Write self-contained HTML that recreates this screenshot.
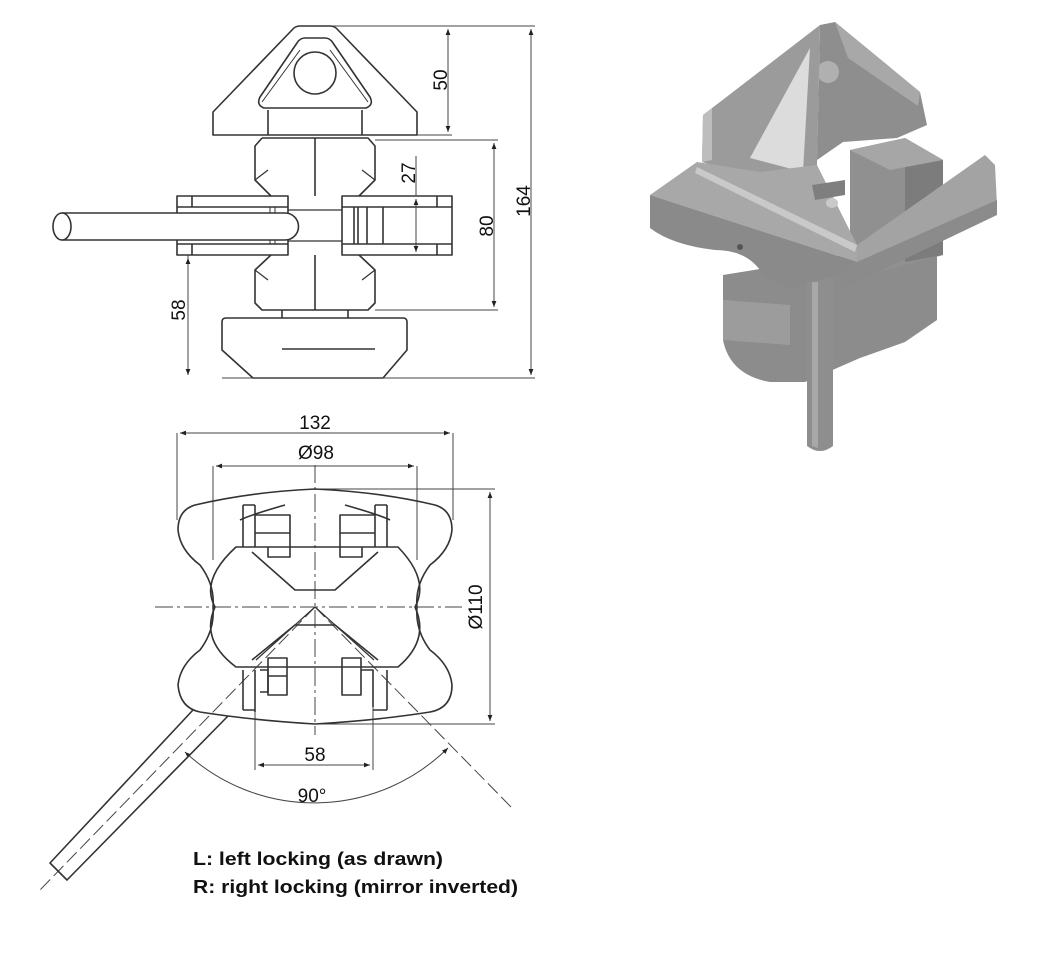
<!DOCTYPE html>
<html><head><meta charset="utf-8"><style>
html,body{margin:0;padding:0;background:#fff}
svg{display:block}
text{font-family:"Liberation Sans",Arial,sans-serif;fill:#111}
</style></head><body>
<svg width="1048" height="956" viewBox="0 0 1048 956" xmlns="http://www.w3.org/2000/svg">
<defs>
<marker id="a" viewBox="0 0 10 10" refX="10" refY="5" markerWidth="9" markerHeight="6" orient="auto-start-reverse" markerUnits="userSpaceOnUse"><path d="M0,1 L10,5 L0,9 z" fill="#222"/></marker>
</defs>

<!-- ================= TOP VIEW ================= -->
<g fill="none" stroke="#333" stroke-width="1.6" stroke-linejoin="round">
  <path d="M300,26 L330,26 Q335,26 338,30 L417,112 L417,135 L213,135 L213,112 L292,30 Q295,26 300,26 Z"/>
  <path d="M305,38 L325,38 Q330,38 333,43 L370,97 Q374,105 366,108 L264,108 Q256,105 260,97 L297,43 Q300,38 305,38 Z"/>
  <path d="M300,50 L262,102 M330,50 L368,102" stroke-width="1"/>
  <circle cx="315" cy="73" r="21"/>
  <path d="M268,110 L268,135 M362,110 L362,135"/>
  <path d="M262,138 L368,138 L375,146 L375,180 L359,196 M262,138 L255,146 L255,180 L271,196"/>
  <path d="M255,180 L268,170 M375,180 L362,170" stroke-width="1.2"/>
  <path d="M271,255 L255,270 L255,303 L262,310 L368,310 L375,303 L375,270 L359,255"/>
  <path d="M255,270 L268,280 M375,270 L362,280" stroke-width="1.2"/>
  <path d="M315,138 L315,196 M315,255 L315,310"/>
  <rect x="177" y="196" width="111" height="59"/>
  <path d="M177,207 L288,207 M177,244 L288,244 M192,196 L192,207 M192,244 L192,255"/>
  <rect x="342" y="196" width="110" height="59"/>
  <path d="M342,207 L452,207 M342,244 L452,244 M437,196 L437,207 M437,244 L437,255"/>
  <path d="M354,207 L354,244 M358,207 L358,244 M367,207 L367,244 M383,207 L383,244"/>
  <path d="M270,207 L270,244 M275,207 L275,244" stroke-width="1"/>
  <path d="M288,210 L342,210 M288,241 L342,241" stroke-width="1.2"/>
  <path d="M62,213 L285,213 A13.5,13.5 0 0 1 285,240 L62,240" fill="#fff"/>
  <ellipse cx="62" cy="226.5" rx="9" ry="13.5" fill="#fff"/>
  <path d="M282,310 L282,318 M348,310 L348,318"/>
  <path d="M226,318 L403,318 Q407,318 407,322 L407,350 L383,378 L253,378 L222,350 L222,322 Q222,318 226,318 Z"/>
  <path d="M282,349 L375,349"/>
</g>
<g stroke="#444" stroke-width="1" fill="none">
  <path d="M333,26 L535,26 M417,135 L452,135 M375,140 L498,140 M375,310 L498,310 M222,378 L535,378 M416,156 L416,196 M188,255 L188,262"/>
  <path d="M448,29 L448,132" marker-start="url(#a)" marker-end="url(#a)"/>
  <path d="M531,29 L531,375" marker-start="url(#a)" marker-end="url(#a)"/>
  <path d="M494,143 L494,307" marker-start="url(#a)" marker-end="url(#a)"/>
  <path d="M416,199 L416,252" marker-start="url(#a)" marker-end="url(#a)"/>
  <path d="M188,258 L188,375" marker-start="url(#a)" marker-end="url(#a)"/>
</g>
<g font-size="19">
  <text transform="translate(447,80) rotate(-90)" text-anchor="middle">50</text>
  <text transform="translate(530,201) rotate(-90)" text-anchor="middle">164</text>
  <text transform="translate(493,226) rotate(-90)" text-anchor="middle">80</text>
  <text transform="translate(415,173) rotate(-90)" text-anchor="middle">27</text>
  <text transform="translate(185,310) rotate(-90)" text-anchor="middle">58</text>
</g>

<!-- ================= BOTTOM VIEW ================= -->
<g fill="none" stroke="#444" stroke-width="1">
  <path d="M177,433 L177,520 M453,433 L453,520 M213,466 L213,560 M417,466 L417,560 M315,489 L495,489 M315,724 L495,724 M255,700 L255,770 M373,700 L373,770"/>
  <path d="M180,433 L450,433" marker-start="url(#a)" marker-end="url(#a)"/>
  <path d="M216,466 L414,466" marker-start="url(#a)" marker-end="url(#a)"/>
  <path d="M490,492 L490,721" marker-start="url(#a)" marker-end="url(#a)"/>
  <path d="M258,765 L370,765" marker-start="url(#a)" marker-end="url(#a)"/>
  <path d="M185,752 A190,190 0 0 0 448,748" marker-start="url(#a)" marker-end="url(#a)"/>
  <path d="M155,607 L462,607" stroke-dasharray="18,4,3,4"/>
  <path d="M315,465 L315,735" stroke-dasharray="18,4,3,4"/>
  <path d="M315,607 L512,808" stroke-dasharray="14,5"/>
  <path d="M315,607 L40,890" stroke-dasharray="14,5"/>
</g>
<g fill="none" stroke="#333" stroke-width="1.6" stroke-linejoin="round">
  <path d="M315,489 Q250,492 195,505 Q178,510 178,530 Q180,550 200,565 Q215,585 213,607 Q215,630 200,650 Q180,665 178,685 Q180,708 200,712 Q250,720 315,724 Q380,720 430,712 Q452,708 452,685 Q450,665 430,650 Q415,630 417,607 Q415,585 430,565 Q450,550 452,530 Q452,510 435,505 Q380,492 315,489 Z"/>
  <path d="M236,547 L398,547 Q430,580 415,607 Q430,640 398,667 L236,667 Q200,640 215,607 Q200,580 236,547 Z"/>
  <path d="M285,505 Q250,515 240,520 M345,505 Q380,515 390,520"/>
  <path d="M243,505 L243,547 M255,505 L255,547 M243,505 L255,505"/>
  <path d="M255,515 L290,515 L290,557 L268,557 L268,547 M255,533 L290,533"/>
  <path d="M387,505 L387,547 M375,505 L375,547 M375,505 L387,505"/>
  <path d="M375,515 L340,515 L340,557 L362,557 L362,547 M375,533 L340,533"/>
  <path d="M252,552 L295,590 L335,590 L378,552"/>
  <path d="M252,660 L295,625 L335,625 L378,660"/>
  <path d="M256,660 L315,607 L374,660" stroke-width="1.2"/>
  <path d="M243,670 L243,710 M255,670 L255,712 M243,710 L255,710"/>
  <rect x="268" y="658" width="19" height="37"/>
  <path d="M268,676 L287,676 M260,670 L268,670 L268,692 L260,692"/>
  <rect x="342" y="658" width="19" height="37"/>
  <path d="M361,670 L373,670 L373,707 M387,670 L387,710 M373,710 L387,710"/>
  <path d="M193,710 L50,863 L67,880 L228,716"/>
</g>
<g font-size="19" text-anchor="middle">
  <text x="315" y="429">132</text>
  <text x="316" y="459">Ø98</text>
  <text transform="translate(482,607) rotate(-90)">Ø110</text>
  <text x="315" y="761">58</text>
  <text x="312" y="802">90°</text>
</g>
<g font-size="18" font-weight="bold">
  <text x="193" y="865" textLength="250" lengthAdjust="spacingAndGlyphs">L: left locking (as drawn)</text>
  <text x="193" y="893" textLength="325" lengthAdjust="spacingAndGlyphs">R: right locking (mirror inverted)</text>
</g>

<!-- ================= 3D RENDER ================= -->
<g stroke="none">
  <!-- lower body -->
  <path d="M723,275 L723,340 Q730,375 770,382 L805,382 L860,358 L905,342 L937,320 L937,240 Z" fill="#8c8c8c"/>
  <path d="M723,300 L790,305 L790,345 L723,340 Z" fill="#9c9c9c"/>
  <!-- right box -->
  <path d="M850,150 L905,138 L943,160 L943,255 L880,272 L850,255 Z" fill="#909090"/>
  <path d="M905,138 L943,160 L943,255 L905,262 Z" fill="#7c7c7c"/>
  <path d="M850,150 L905,138 L943,160 L890,170 Z" fill="#a6a6a6"/>
  <!-- rear block -->
  <path d="M820,25 L835,22 L920,92 L927,125 L897,138 L843,142 L817,160 Z" fill="#8e8e8e"/>
  <path d="M835,22 L920,92 L918,106 L848,58 Z" fill="#a8a8a8"/>
  <circle cx="828" cy="72" r="11" fill="#b0b0b0"/>
  <!-- cone -->
  <path d="M820,25 L703,115 L702,162 L760,180 L803,188 L817,165 Z" fill="#9b9b9b"/>
  <path d="M810,48 L750,158 L803,172 Z" fill="#dcdcdc"/>
  <path d="M703,115 L712,108 L712,160 L702,162 Z" fill="#bdbdbd"/>
  <!-- main plate top face -->
  <path d="M650,195 L697,162 L760,172 L817,165 L857,245 L857,262 Z" fill="#a8a8a8"/>
  <path d="M697,167 L857,245 L855,252 L695,173 Z" fill="#c9c9c9"/>
  <!-- front face of plate -->
  <path d="M650,195 L857,262 L843,272 L790,290 Q775,280 773,282 L760,270 Q745,250 715,250 Q672,245 650,228 Z" fill="#8a8a8a"/>
  <circle cx="740" cy="247" r="3" fill="#555"/>
  <!-- right wing -->
  <path d="M857,245 L985,155 L995,165 L997,205 L857,262 Z" fill="#a3a3a3"/>
  <path d="M857,262 L997,200 L997,215 L840,290 L830,290 Z" fill="#8b8b8b"/>
  <ellipse cx="832" cy="203" rx="6" ry="5" fill="#c9c9c9"/>
  <path d="M812,185 L845,180 L845,195 L815,200 Z" fill="#7f7f7f"/>
  <!-- rod -->
  <path d="M807,282 L833,278 L833,446 Q820,456 807,446 Z" fill="#8e8e8e"/>
  <path d="M812,282 L818,282 L818,448 L812,446 Z" fill="#a8a8a8"/>
</g>
</svg>
</body></html>
